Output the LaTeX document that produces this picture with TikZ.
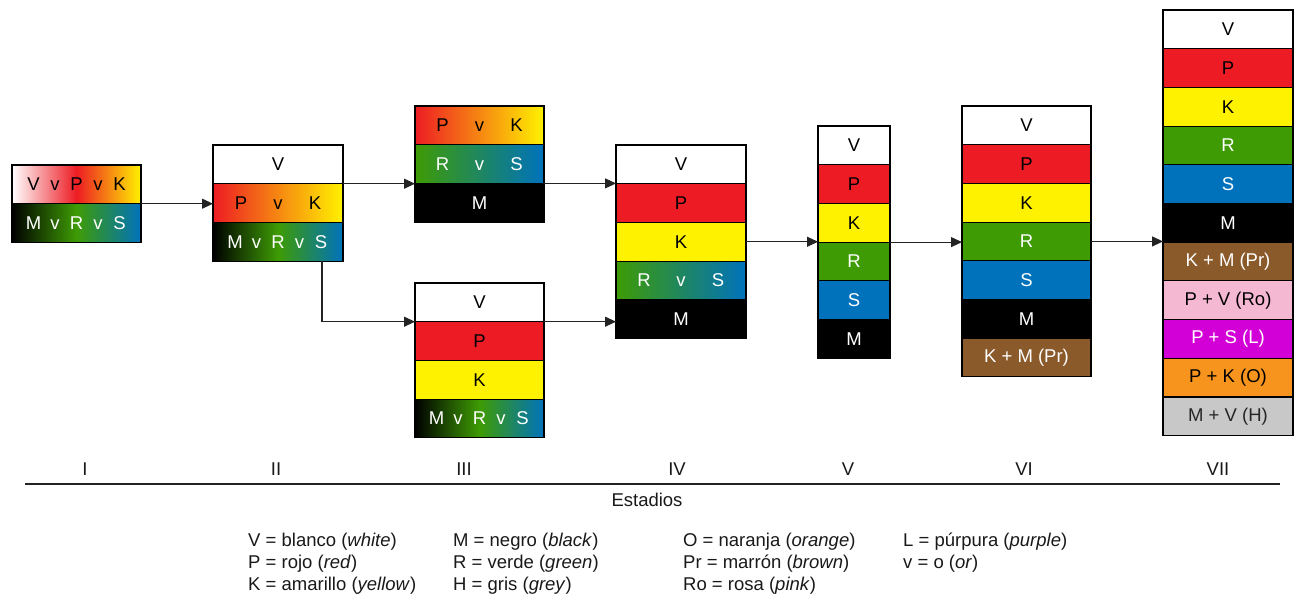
\documentclass[tikz,border=0pt]{standalone}
\usepackage{fontspec}
\setmainfont{Liberation Sans}
\usetikzlibrary{arrows.meta}

\definecolor{cRed}{RGB}{237,28,36}
\definecolor{cYel}{RGB}{255,242,0}
\definecolor{cGrn}{RGB}{62,155,4}
\definecolor{cBlu}{RGB}{0,114,188}
\definecolor{cBrn}{RGB}{139,90,43}
\definecolor{cPnk}{RGB}{245,184,211}
\definecolor{cMag}{RGB}{210,0,215}
\definecolor{cOrg}{RGB}{247,148,29}
\definecolor{cGry}{RGB}{200,200,200}
\definecolor{cLine}{RGB}{35,35,35}
\definecolor{cTxt}{RGB}{25,25,25}

% white -> red -> yellow, and black -> green -> blue
\pgfdeclarehorizontalshading{wpk}{100bp}{color(0bp)=(white); color(25bp)=(white); color(50bp)=(cRed); color(75bp)=(cYel); color(100bp)=(cYel)}
\pgfdeclarehorizontalshading{mrs}{100bp}{color(0bp)=(black); color(25bp)=(black); color(50bp)=(cGrn); color(75bp)=(cBlu); color(100bp)=(cBlu)}

\newcommand\trio[3]{\makebox[37pt]{#1}\makebox[37pt]{#2}\makebox[37pt]{#3}}
\newcommand\quint[5]{\makebox[21.5pt]{#1}\makebox[21.5pt]{#2}\makebox[21.5pt]{#3}\makebox[21.5pt]{#4}\makebox[21.5pt]{#5}}
\newcommand\txtsize{\fontsize{18.5}{21}\selectfont}

\tikzset{
  cell/.style={draw=black, line width=1.1pt, minimum width=#1, minimum height=38.7pt,
    inner sep=0pt, outer sep=0pt, anchor=north west, font=\txtsize},
  cell/.default=130pt,
  wht/.style={fill=white, text=black},
  red/.style={fill=cRed, text=black},
  yel/.style={fill=cYel, text=black},
  grn/.style={fill=cGrn, text=white},
  blu/.style={fill=cBlu, text=white},
  blk/.style={fill=black, text=white},
  brn/.style={fill=cBrn, text=white},
  pnk/.style={fill=cPnk, text=black},
  mag/.style={fill=cMag, text=white},
  org/.style={fill=cOrg, text=black},
  gry/.style={fill=cGry, text=black!85},
  gwpk/.style={shade, shading=wpk, text=black},
  gmrs/.style={shade, shading=mrs, text=white},
  gpk/.style={left color=cRed, right color=cYel, text=black},
  grs/.style={left color=cGrn, right color=cBlu, text=white},
  conn/.style={draw=cLine, line width=1.1pt, -{Triangle[length=11pt,width=10pt]}},
  stage/.style={anchor=base, inner sep=0pt, text=cTxt, font=\txtsize},
  legend/.style={anchor=base west, inner sep=0pt, text=cTxt, font=\txtsize},
}

\begin{document}
\begin{tikzpicture}[x=1pt,y=-1pt]
\useasboundingbox (0,0) rectangle (1297,596);

% Stage I
\node[cell=129pt, gwpk] (s1a) at (12,165) {\quint VvPvK};
\node[cell=129pt, gmrs] (s1b) at (s1a.south west) {\quint MvRvS};

% Stage II
\node[cell, wht] (s2a) at (213,145) {V};
\node[cell, gpk] (s2b) at (s2a.south west) {\trio PvK};
\node[cell, gmrs] (s2c) at (s2b.south west) {\quint MvRvS};

% Stage III, upper
\node[cell=129pt, gpk] (s3ua) at (415,106) {\trio PvK};
\node[cell=129pt, grs] (s3ub) at (s3ua.south west) {\trio RvS};
\node[cell=129pt, blk] (s3uc) at (s3ub.south west) {M};

% Stage III, lower
\node[cell=129pt, wht] (s3la) at (415,283) {V};
\node[cell=129pt, red] (s3lb) at (s3la.south west) {P};
\node[cell=129pt, yel] (s3lc) at (s3lb.south west) {K};
\node[cell=129pt, gmrs] (s3ld) at (s3lc.south west) {\quint MvRvS};

% Stage IV
\node[cell, wht] (s4a) at (616,145) {V};
\node[cell, red] (s4b) at (s4a.south west) {P};
\node[cell, yel] (s4c) at (s4b.south west) {K};
\node[cell, grs] (s4d) at (s4c.south west) {\trio RvS};
\node[cell, blk] (s4e) at (s4d.south west) {M};

% Stage V
\node[cell=72pt, wht] (s5a) at (818,126) {V};
\node[cell=72pt, red] (s5b) at (s5a.south west) {P};
\node[cell=72pt, yel] (s5c) at (s5b.south west) {K};
\node[cell=72pt, grn] (s5d) at (s5c.south west) {R};
\node[cell=72pt, blu] (s5e) at (s5d.south west) {S};
\node[cell=72pt, blk] (s5f) at (s5e.south west) {M};

% Stage VI
\node[cell=129pt, wht] (s6a) at (962,106) {V};
\node[cell=129pt, red] (s6b) at (s6a.south west) {P};
\node[cell=129pt, yel] (s6c) at (s6b.south west) {K};
\node[cell=129pt, grn] (s6d) at (s6c.south west) {R};
\node[cell=129pt, blu] (s6e) at (s6d.south west) {S};
\node[cell=129pt, blk] (s6f) at (s6e.south west) {M};
\node[cell=129pt, brn] (s6g) at (s6f.south west) {K + M (Pr)};

% Stage VII
\node[cell, wht] (s7a) at (1163,10) {V};
\node[cell, red] (s7b) at (s7a.south west) {P};
\node[cell, yel] (s7c) at (s7b.south west) {K};
\node[cell, grn] (s7d) at (s7c.south west) {R};
\node[cell, blu] (s7e) at (s7d.south west) {S};
\node[cell, blk] (s7f) at (s7e.south west) {M};
\node[cell, brn] (s7g) at (s7f.south west) {K + M (Pr)};
\node[cell, pnk] (s7h) at (s7g.south west) {P + V (Ro)};
\node[cell, mag] (s7i) at (s7h.south west) {P + S (L)};
\node[cell, org] (s7j) at (s7i.south west) {P + K (O)};
\node[cell, gry] (s7k) at (s7j.south west) {M + V (H)};

% Connectors between stages
\draw[conn] (s1a.south east) -- (s1a.south east -| s2b.west);
\draw[conn] (s2a.south east) -- (s2a.south east -| s3uc.west);
\coordinate (drop) at ([xshift=109pt]s2c.south west);
\draw[conn] (drop) |- (s3la.south west);
\draw[conn] (s3ub.south east) -- (s3ub.south east -| s4b.west);
\draw[conn] (s3la.south east) -- (s3la.south east -| s4e.west);
\draw[conn] (s4c.east) -- (s4c.east -| s5d.west);
\draw[conn] (s5c.south east) -- (s5c.south east -| s6d.west);
\draw[conn] (s6d.east) -- (s6d.east -| s7g.west);

% Stage axis
\node[stage] (lI) at (85,475) {I};
\node[stage] (lII) at (276,475) {II};
\node[stage] (lIII) at (464,475) {III};
\node[stage] (lIV) at (677,475) {IV};
\node[stage] (lV) at (848,475) {V};
\node[stage] (lVI) at (1024,475) {VI};
\node[stage] (lVII) at (1218,475) {VII};
\coordinate (axL) at (25,484);
\coordinate (axR) at (1280,484);
\draw[cLine, line width=1.2pt] (axL) -- (axR);
\node[stage] (est) at (647,506) {Estadios};

% Key
\node[legend] (k1) at (248,546) {V = blanco (\textit{white})};
\node[legend] (k2) at (248,568) {P = rojo (\textit{red})};
\node[legend] (k3) at (248,590) {K = amarillo (\textit{yellow})};
\node[legend] (k4) at (453,546) {M = negro (\textit{black})};
\node[legend] (k5) at (453,568) {R = verde (\textit{green})};
\node[legend] (k6) at (453,590) {H = gris (\textit{grey})};
\node[legend] (k7) at (683,546) {O = naranja (\textit{orange})};
\node[legend] (k8) at (683,568) {Pr = marrón (\textit{brown})};
\node[legend] (k9) at (683,590) {Ro = rosa (\textit{pink})};
\node[legend] (k10) at (903,546) {L = púrpura (\textit{purple})};
\node[legend] (k11) at (903,568) {v = o (\textit{or})};
\end{tikzpicture}
\end{document}
